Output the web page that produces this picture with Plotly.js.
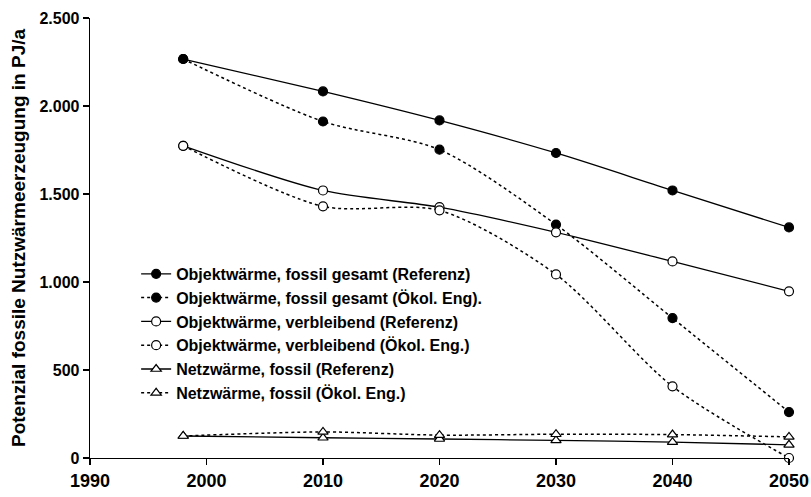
<!DOCTYPE html>
<html>
<head>
<meta charset="utf-8">
<script src="https://cdn.plot.ly/plotly-3.0.1.min.js"></script>
<style>html,body{margin:0;padding:0;background:#fff;}#chart{width:811px;height:497px;}</style>
</head>
<body>
<div id="chart"></div>
<script>
const years = [1998, 2010, 2020, 2030, 2040, 2050];
const objGesRef = [2267, 2083, 1918, 1733, 1520, 1310];
const objGesOek = [2267, 1912, 1752, 1326, 795, 261];
const objVerRef = [1774, 1520, 1425, 1282, 1117, 947];
const objVerOek = [1774, 1430, 1407, 1043, 407, 0];
const netzRef = [125, 115, 108, 100, 90, 75];
const netzOek = [125, 148, 130, 135, 133, 120];
const names = [
  "Objektwärme, fossil gesamt (Referenz)",
  "Objektwärme, fossil gesamt (Ökol. Eng).",
  "Objektwärme, verbleibend (Referenz)",
  "Objektwärme, verbleibend (Ökol. Eng.)",
  "Netzwärme, fossil (Referenz)",
  "Netzwärme, fossil (Ökol. Eng.)"
];
const xTicks = [1990, 2000, 2010, 2020, 2030, 2040, 2050];
const yTicks = [0, 500, 1000, 1500, 2000, 2500];

function tr(y, name, dash, symbol, fill) {
  return {
    x: years, y: y, name: name, type: 'scatter', mode: 'lines+markers',
    line: {color: '#000', width: dash === 'solid' ? 1.3 : 1.5, dash: dash, shape: 'spline', smoothing: 0.8},
    marker: {symbol: symbol, size: 9, color: fill, line: {color: '#000', width: 1.2}},
    cliponaxis: false
  };
}
const data = [
  tr(objGesRef, names[0], 'solid', 'circle', '#000'),
  tr(objGesOek, names[1], 'dot', 'circle', '#000'),
  tr(objVerRef, names[2], 'solid', 'circle', '#fff'),
  tr(objVerOek, names[3], 'dot', 'circle', '#fff'),
  tr(netzRef, names[4], 'solid', 'triangle-up', '#fff'),
  tr(netzOek, names[5], 'dot', 'triangle-up', '#fff')
];

const font = {family: 'Liberation Sans, Arial, sans-serif', color: '#000', weight: 'bold'};
const layout = {
  width: 811, height: 497,
  margin: {l: 90, r: 22, t: 18, b: 39, pad: 0},
  paper_bgcolor: '#fff', plot_bgcolor: '#fff',
  separators: ',.',
  font: font,
  showlegend: true,
  legend: {x: 0.066, y: 0.457, xanchor: 'left', yanchor: 'top', bgcolor: 'rgba(0,0,0,0)',
    font: Object.assign({}, font, {size: 16}), tracegroupgap: 0, itemwidth: 30},
  xaxis: {range: [1990, 2050], tickvals: xTicks, ticktext: xTicks.map(String),
    showgrid: false, zeroline: false, showline: true, linecolor: '#000', linewidth: 1.3,
    ticks: 'outside', ticklen: 6, tickwidth: 1.3, tickcolor: '#000',
    tickfont: Object.assign({}, font, {size: 18})},
  yaxis: {range: [0, 2500], tickvals: yTicks, tickformat: ',d',
    showgrid: false, zeroline: false, showline: true, linecolor: '#000', linewidth: 1.3,
    ticks: 'outside', ticklen: 6, tickwidth: 1.3, tickcolor: '#000',
    tickfont: Object.assign({}, font, {size: 16}),
    title: {text: 'Potenzial fossile Nutzwärmeerzeugung in PJ/a', font: Object.assign({}, font, {size: 19}), standoff: 8}}
};
Plotly.newPlot('chart', data, layout, {displayModeBar: false, staticPlot: true});
</script>
</body>
</html>
